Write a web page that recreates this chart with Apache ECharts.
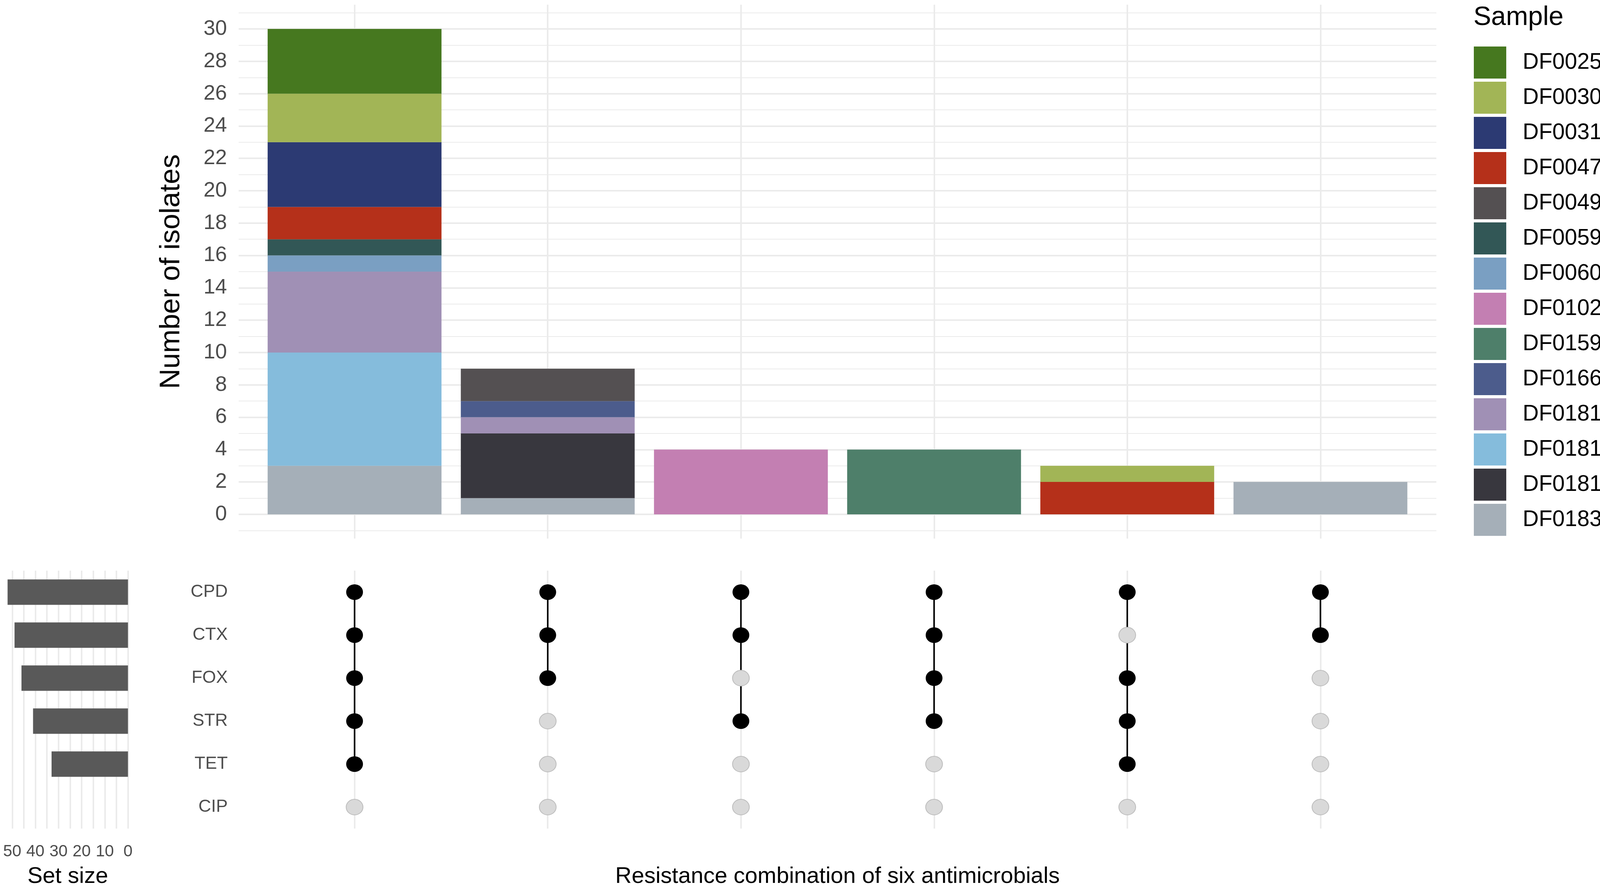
<!DOCTYPE html>
<html>
<head>
<meta charset="utf-8">
<title>Resistance combinations</title>
<script src="https://cdn.jsdelivr.net/npm/echarts@6/dist/echarts.min.js"></script>
<style>
  html, body { margin: 0; padding: 0; background: #fff; }
  #chart { width: 4318px; height: 2272px; }
</style>
</head>
<body>
<div id="chart"></div>
<script>
// ---- data ----
var antimicrobials = ['CPD', 'CTX', 'FOX', 'STR', 'TET', 'CIP'];
var combinations = [
    ['CPD', 'CTX', 'FOX', 'STR', 'TET'],
    ['CPD', 'CTX', 'FOX'],
    ['CPD', 'CTX', 'STR'],
    ['CPD', 'CTX', 'FOX', 'STR'],
    ['CPD', 'FOX', 'STR', 'TET'],
    ['CPD', 'CTX']
];
var combinationNames = combinations.map(function (c) { return c.join(' & '); });
var samples = ['DF0025 (n=4)', 'DF0030 (n=4)', 'DF0031.1 (n=4)', 'DF0047 (n=4)', 'DF0049.2 (n=2)',
    'DF0059.2 (n=1)', 'DF0060 (n=1)', 'DF0102.4 (n=4)', 'DF0159.2 (n=4)', 'DF0166 (n=1)',
    'DF0181.1 (n=6)', 'DF0181.3 (n=7)', 'DF0181.4 (n=4)', 'DF0183 (n=6)'];
var sampleColors = ['#46781F', '#A2B556', '#2C3A73', '#B5301A', '#545052',
    '#325756', '#7A9FC2', '#C37FB2', '#4E7F6A', '#4C5C8C',
    '#A090B5', '#85BCDC', '#38373E', '#A5AFB8'];

// isolates of each sample in each combination column
var DF0025 = [4, 0, 0, 0, 0, 0];
var DF0030 = [3, 0, 0, 0, 1, 0];
var DF0031_1 = [4, 0, 0, 0, 0, 0];
var DF0047 = [2, 0, 0, 0, 2, 0];
var DF0049_2 = [0, 2, 0, 0, 0, 0];
var DF0059_2 = [1, 0, 0, 0, 0, 0];
var DF0060 = [1, 0, 0, 0, 0, 0];
var DF0102_4 = [0, 0, 4, 0, 0, 0];
var DF0159_2 = [0, 0, 0, 4, 0, 0];
var DF0166 = [0, 1, 0, 0, 0, 0];
var DF0181_1 = [5, 1, 0, 0, 0, 0];
var DF0181_3 = [7, 0, 0, 0, 0, 0];
var DF0181_4 = [0, 4, 0, 0, 0, 0];
var DF0183 = [3, 1, 0, 0, 0, 2];
var sampleCounts = [DF0025, DF0030, DF0031_1, DF0047, DF0049_2, DF0059_2, DF0060,
    DF0102_4, DF0159_2, DF0166, DF0181_1, DF0181_3, DF0181_4, DF0183];

var setSize = [52, 49, 46, 41, 33, 0];

// ---- layout (px) ----
var FONT = '"Liberation Sans", Arial, sans-serif';
var PANEL_L = 611, PANEL_R = 641;
var COL_UNIT = (4318 - PANEL_L - PANEL_R) / 6.2;   // discrete axis expands 0.6 on each side
var TOP_Y = 12, TOP_H = 1366;
var GRID_COLOR = '#EBEBEB';

var chart = echarts.init(document.getElementById('chart'));

// stacked bars: first series sits at the bottom, so go from last sample up
var barSeries = [];
for (var s = samples.length - 1; s >= 0; s--) {
    barSeries.push({
        name: samples[s],
        type: 'bar',
        stack: 'isolates',
        xAxisIndex: 3,
        yAxisIndex: 4,
        barWidth: '90%',
        itemStyle: { color: sampleColors[s] },
        data: sampleCounts[s]
    });
}

// matrix dots and connecting lines
var onDots = [], offDots = [], links = [];
combinations.forEach(function (combo, c) {
    var rows = [];
    antimicrobials.forEach(function (ab, r) {
        if (combo.indexOf(ab) >= 0) { onDots.push([c + 1, r]); rows.push(r); }
        else offDots.push([c + 1, r]);
    });
    links.push([c + 1, Math.min.apply(null, rows), Math.max.apply(null, rows)]);
});

function gridLine(w) {
    return { show: true, showMinLine: false, showMaxLine: false, lineStyle: { color: GRID_COLOR, width: w } };
}
var noAxis = { axisLine: { show: false }, axisTick: { show: false } };

var option = {
    animation: false,
    backgroundColor: '#ffffff',
    textStyle: { fontFamily: FONT },
    title: {
        text: 'Sample',
        left: 3767, top: 6,
        textStyle: { fontFamily: FONT, fontSize: 68, fontWeight: 'normal', color: '#000' }
    },
    legend: {
        data: samples,
        orient: 'vertical',
        left: 3768, top: 114,
        itemWidth: 83, itemHeight: 82, itemGap: 8,
        icon: 'rect',
        selectedMode: false,
        textStyle: { fontFamily: FONT, fontSize: 57, color: '#000', padding: [0, 0, 0, 37] }
    },
    grid: [
        // top panel background (grid lines, y labels)
        { left: PANEL_L, right: PANEL_R, top: TOP_Y, height: TOP_H, outerBoundsMode: 'none' },
        // matrix
        { left: PANEL_L, right: PANEL_R, top: 1460, height: 660, outerBoundsMode: 'none' },
        // set size
        { left: 4, width: 339, top: 1460, height: 660, outerBoundsMode: 'none' },
        // bars: the 6 category bands inside the expanded panel
        { left: PANEL_L + 0.1 * COL_UNIT, width: 6 * COL_UNIT, top: TOP_Y, height: TOP_H, outerBoundsMode: 'none' }
    ],
    xAxis: [
        Object.assign({
            gridIndex: 0, type: 'value', min: 0.4, max: 6.6, minInterval: 1, maxInterval: 1,
            axisLabel: { show: false }, splitLine: gridLine(4)
        }, noAxis),
        Object.assign({
            gridIndex: 1, type: 'value', min: 0.4, max: 6.6, minInterval: 1, maxInterval: 1,
            axisLabel: { show: false }, splitLine: gridLine(4),
            name: 'Resistance combination of six antimicrobials',
            nameLocation: 'middle', nameGap: 94, nameMoveOverlap: false,
            nameTextStyle: { fontFamily: FONT, fontSize: 58, color: '#000' }
        }, noAxis),
        Object.assign({
            gridIndex: 2, type: 'value', inverse: true, min: -2.6, max: 54.6, minInterval: 5, maxInterval: 5,
            axisLabel: {
                margin: 38, fontSize: 42, color: '#4D4D4D', fontFamily: FONT,
                formatter: function (v) { return (v >= 0 && v % 10 === 0) ? String(v) : ''; }
            },
            splitLine: gridLine(4),
            name: 'Set size', nameLocation: 'middle', nameGap: 94, nameMoveOverlap: false,
            nameTextStyle: { fontFamily: FONT, fontSize: 58, color: '#000' }
        }, noAxis),
        Object.assign({
            gridIndex: 3, type: 'category', data: combinationNames,
            axisLabel: { show: false }, splitLine: { show: false }
        }, noAxis)
    ],
    yAxis: [
        // minor grid lines (every 1)
        Object.assign({
            gridIndex: 0, type: 'value', position: 'left', min: -1.5, max: 31.5, minInterval: 1, maxInterval: 1,
            axisLabel: { show: false }, splitLine: gridLine(2)
        }, noAxis),
        // major grid lines + labels (every 2)
        Object.assign({
            gridIndex: 0, type: 'value', position: 'left', min: -1.5, max: 31.5, minInterval: 2, maxInterval: 2,
            axisLabel: {
                margin: 30, fontSize: 54, color: '#4D4D4D', fontFamily: FONT,
                formatter: function (v) { return (v >= 0 && v <= 30 && v % 2 === 0) ? String(v) : ''; }
            },
            splitLine: gridLine(4),
            name: 'Number of isolates', nameLocation: 'middle', nameRotate: 90, nameGap: 136,
            nameMoveOverlap: false,
            nameTextStyle: { fontFamily: FONT, fontSize: 72, color: '#000' }
        }, noAxis),
        Object.assign({
            gridIndex: 1, type: 'category', data: antimicrobials, inverse: true,
            axisLabel: { margin: 28, fontSize: 45, color: '#4D4D4D', fontFamily: FONT },
            splitLine: { show: false }
        }, noAxis),
        Object.assign({
            gridIndex: 2, type: 'category', data: antimicrobials, inverse: true,
            axisLabel: { show: false }, splitLine: { show: false }
        }, noAxis),
        Object.assign({
            gridIndex: 3, type: 'value', min: -1.5, max: 31.5,
            axisLabel: { show: false }, splitLine: { show: false }
        }, noAxis)
    ],
    series: barSeries.concat([
        {
            type: 'custom',
            xAxisIndex: 1, yAxisIndex: 2,
            z: 2,
            data: links,
            renderItem: function (params, api) {
                var p1 = api.coord([api.value(0), api.value(1)]);
                var p2 = api.coord([api.value(0), api.value(2)]);
                return {
                    type: 'line',
                    shape: { x1: p1[0], y1: p1[1], x2: p2[0], y2: p2[1] },
                    style: { stroke: '#000', lineWidth: 4 }
                };
            }
        },
        {
            type: 'scatter',
            xAxisIndex: 1, yAxisIndex: 2,
            z: 3,
            symbol: 'circle', symbolSize: [43, 40],
            itemStyle: { color: '#D9D9D9', borderColor: '#BDBDBD', borderWidth: 2, opacity: 1 },
            data: offDots
        },
        {
            type: 'scatter',
            xAxisIndex: 1, yAxisIndex: 2,
            z: 4,
            symbol: 'circle', symbolSize: [43, 40],
            itemStyle: { color: '#000', opacity: 1 },
            data: onDots
        },
        {
            type: 'bar',
            xAxisIndex: 2, yAxisIndex: 3,
            barWidth: 65,
            itemStyle: { color: '#595959' },
            data: setSize
        }
    ])
};

chart.setOption(option);
</script>
</body>
</html>
